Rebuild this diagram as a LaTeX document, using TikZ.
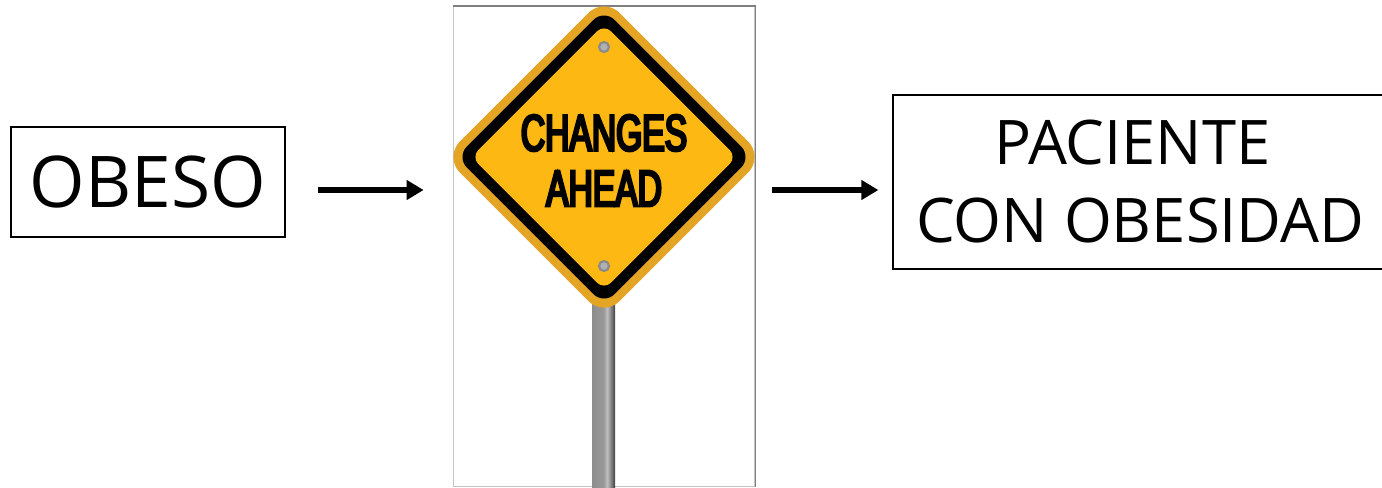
\documentclass[tikz,border=0pt]{standalone}
\usepackage{fontspec}
\setmainfont{Open Sans}
\newfontfamily\signfont[FakeStretch=0.655,FakeBold=5]{Liberation Sans}
\usepackage{xcolor}
\usepackage{tikz}
\usetikzlibrary{shapes.geometric, arrows.meta, positioning}
\definecolor{SignRim}{HTML}{E5A524}
\definecolor{SignFace}{HTML}{FDB813}
\definecolor{BoltGray}{HTML}{B0B0B0}
\definecolor{BoltEdge}{HTML}{8A8A8A}
\definecolor{FrameLight}{HTML}{C4C4C4}
\definecolor{FrameDark}{HTML}{808080}
\pgfdeclarehorizontalshading{polebar}{100bp}{
    color(0bp)=(black!45); color(25bp)=(black!45); color(50bp)=(black!40);
    color(58bp)=(black!25); color(65bp)=(black!45); color(75bp)=(black!75); color(100bp)=(black!70)}

\begin{document}
\begin{tikzpicture}[
    box/.style={rectangle, draw=black, line width=0.5pt, inner sep=0pt, align=center},
    frame/.style={rectangle, draw=FrameLight, fill=white, line width=0.5pt, inner sep=0pt, minimum width=3.01cm, minimum height=4.8cm},
    pole/.style={rectangle, inner sep=0pt, minimum width=0.23cm, minimum height=1.87cm, shading=polebar},
    diam/.style={diamond, inner sep=0pt, rounded corners=#1},
    rim/.style={diam=0.22cm, fill=SignRim, minimum size=3.2cm},
    ring/.style={diam=0.15cm, fill=black, minimum size=2.96cm},
    face/.style={diam=0.1cm, fill=SignFace, minimum size=2.66cm},
    bolt/.style={circle, fill=BoltGray, draw=BoltEdge, line width=0.6pt, inner sep=0pt, minimum size=0.1cm},
    signtext/.style={inner sep=0pt, font=\signfont\fontsize{14.6}{14.6}\selectfont},
    arr/.style={-{Triangle[length=0.17cm,width=0.19cm]}, line width=1.5pt}
]
    \useasboundingbox (0,0) rectangle (13.82,-4.87);

    % Sign board
    \node[frame] (board) at (6.04,-2.465) {};
    \draw[FrameDark, line width=0.5pt] (board.north west) -- (board.north east) -- (board.south east);
    \node[pole] (post) at (6.035,-3.935) {};
    \node[rim] (signrim) at (6.04,-1.57) {};
    \node[ring] (signring) at (signrim) {};
    \node[face] (signface) at (signrim) {};
    \node[bolt] (bolttop) at ([yshift=1.10cm]signface.center) {};
    \node[bolt] (boltbottom) at ([yshift=-1.09cm]signface.center) {};
    \node[signtext] (changes) at ([yshift=0.24cm]signface.center) {CHANGES};
    \node[signtext] (ahead) at ([yshift=-0.315cm]signface.center) {AHEAD};

    % Labels
    \node[box, left=1.67cm of board, yshift=0.645cm, minimum width=2.74cm, minimum height=1.1cm, font=\fontsize{20.3}{22.2}\selectfont] (obeso) {OBESO};
    \node[box, right=1.37cm of board, yshift=0.645cm, minimum width=4.94cm, minimum height=1.74cm, font=\fontsize{17.5}{22.2}\selectfont] (paciente) {PACIENTE\hspace*{0.16cm}\\CON OBESIDAD};

    % Connections
    \draw[arr, shorten <=0.32cm, shorten >=0.29cm] ([yshift=-0.08cm]obeso.east) -- ([yshift=-0.08cm]obeso.east -| board.west);
    \draw[arr, shorten <=0.17cm, shorten >=0.14cm] ([yshift=-0.08cm]paciente.west -| board.east) -- ([yshift=-0.08cm]paciente.west);
\end{tikzpicture}
\end{document}
